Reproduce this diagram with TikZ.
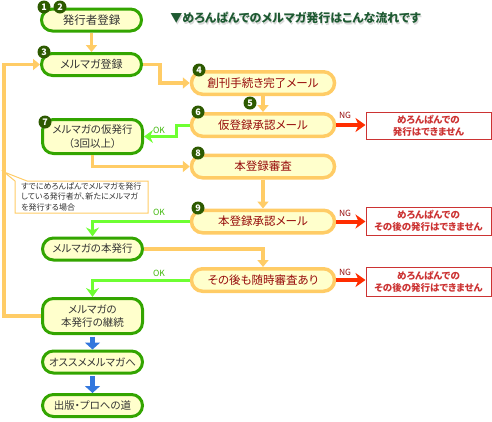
\documentclass[tikz,border=0pt]{standalone}
\usepackage{fontspec}
\setmainfont[RawFeature=+palt]{Noto Sans CJK JP}
\usepackage{tikz}
\usetikzlibrary{arrows.meta}

\definecolor{boxgreen}{RGB}{51,165,0}
\definecolor{cream}{RGB}{255,255,204}
\definecolor{lineorange}{RGB}{255,204,102}
\definecolor{okgreen}{RGB}{110,255,50}
\definecolor{ngred}{RGB}{255,45,0}
\definecolor{boxred}{RGB}{204,51,51}
\definecolor{darkred}{RGB}{150,10,10}
\definecolor{badgegreen}{RGB}{45,90,0}
\definecolor{titlegreen}{RGB}{30,90,50}
\definecolor{arrowblue}{RGB}{51,119,221}
\definecolor{textgray}{RGB}{51,51,51}

\begin{document}
\begin{tikzpicture}[x=1pt, y=-1pt,
	gbox/.style={draw=boxgreen, line width=3pt, fill=cream, rounded corners=11pt,
		minimum width=100pt, minimum height=22pt, inner sep=0pt, align=center,
		text=textgray, font=\fontsize{10.5}{13.5}\selectfont},
	obox/.style={draw=lineorange, line width=3.5pt, fill=cream, rounded corners=11pt,
		minimum width=143pt, minimum height=22.5pt, inner sep=0pt, align=center,
		text=darkred, font=\fontsize{11.5}{14}\selectfont},
	ngbox/.style={draw=boxred, line width=1pt, fill=white, minimum width=125pt,
		inner sep=0pt, align=center, text=boxred, font=\fontsize{9.5}{12}\selectfont\bfseries},
	badge/.style={circle, fill=badgegreen, text=white, minimum size=13pt, inner sep=0pt,
		font=\fontsize{9}{9}\selectfont\bfseries},
	oarrow/.style={draw=lineorange, line width=3.5pt, -{Triangle[width=11pt,length=7pt]}},
	garrow/.style={draw=okgreen, line width=3pt, -{Stealth[width=13pt,length=9pt,inset=3pt]}},
	rarrow/.style={draw=ngred, line width=4pt, -{Stealth[width=14pt,length=10pt,inset=3pt]}},
	barrow/.style={draw=arrowblue, line width=5pt, -{Triangle[width=15pt,length=7pt]}},
	oklabel/.style={text=boxgreen!80!okgreen, font=\fontsize{8.5}{9}\selectfont},
	nglabel/.style={text=darkred, font=\fontsize{8.5}{9}\selectfont}]

	\useasboundingbox (0,0) rectangle (492,421);

	% Title
	\node[text=black!15, font=\fontsize{12}{14}\selectfont\bfseries] at (296.5,19.5) {▼めろんぱんでのメルマガ発行はこんな流れです};
	\node (title) [text=titlegreen, font=\fontsize{12}{14}\selectfont\bfseries] at (295.5,18) {▼めろんぱんでのメルマガ発行はこんな流れです};

	% Draw note for the loop
	\draw[lineorange, line width=1pt, fill=white] (15,213) -- (15,181) -- (4,172) -- (27,181) -- (148,181) -- (148,213) -- cycle;
	\node (note) [anchor=north west, align=left, text=textgray, inner sep=0pt,
		font=\fontsize{8}{10.3}\selectfont] at (21,182.5)
		{すでにめろんぱんでメルマガを発行\\している発行者が、新たにメルマガ\\を発行する場合};

	% Green boxes on the left
	\node[gbox, font=\fontsize{11.5}{14}\selectfont] (hakkosha) at (91.5,20) {発行者登録};
	\node[gbox, font=\fontsize{11}{14}\selectfont] (merumaga) at (91.5,64.5) {メルマガ登録};
	\node[gbox, minimum height=34pt] (karihakko) at (92.5,136.5) {メルマガの仮発行\\（3回以上）};
	\node[gbox] (honhakko) at (92.5,249) {メルマガの本発行};
	\node[gbox, minimum height=35pt] (keizoku) at (92.5,316) {メルマガの\\本発行の継続};
	\node[gbox] (osusume) at (92.5,362) {オススメメルマガへ};
	\node[gbox] (shuppan) at (92.5,405.5) {出版・プロへの道};

	% Orange boxes in the middle
	\node[obox] (soukan) at (263,83) {創刊手続き完了メール};
	\node[obox] (kari) at (263,125) {仮登録承認メール};
	\node[obox] (honshinsa) at (263,166.5) {本登録審査};
	\node[obox] (hon) at (263,221.5) {本登録承認メール};
	\node[obox] (zuiji) at (263,280) {その後も随時審査あり};

	% Red boxes on the right
	\node[ngbox, minimum height=27pt] (ng1) at (428.5,126) {めろんぱんでの\\発行はできません};
	\node[ngbox, minimum height=28pt] (ng2) at (428.5,221) {めろんぱんでの\\その後の発行はできません};
	\node[ngbox, minimum height=29pt] (ng3) at (428.5,282) {めろんぱんでの\\その後の発行はできません};

	% Draw orange flow
	\draw[oarrow] (hakkosha.south) -- (merumaga.north);
	\draw[oarrow] (merumaga.east) -- ++(17,0) |- (soukan.west);
	\draw[oarrow] (soukan.south) -- (kari.north);
	\draw[oarrow] (karihakko.south) |- (honshinsa.west);
	\draw[oarrow] (honshinsa.south) -- (hon.north);
	\draw[oarrow] (honhakko.east) -| (zuiji.north);
	\draw[oarrow] (keizoku.west) -| ([xshift=-36pt]merumaga.west) -- (merumaga.west);

	% Draw OK arrows
	\draw[garrow] (kari.west) -- ++(-13,0) |- (karihakko.east);
	\node[oklabel] (ok1) at (159,130) {OK};
	\draw[garrow] (hon.west) -| (honhakko.north);
	\node[oklabel] (ok2) at (159,212) {OK};
	\draw[garrow] (zuiji.west) -| (keizoku.north);
	\node[oklabel] (ok3) at (159,273) {OK};

	% Draw NG arrows
	\draw[rarrow] (kari.east) -- (ng1.west |- kari.east);
	\node[nglabel] (ng1l) at (345,115) {NG};
	\draw[rarrow] (hon.east) -- (ng2.west |- hon.east);
	\node[nglabel] (ng2l) at (345,213) {NG};
	\draw[rarrow] (zuiji.east) -- (ng3.west |- zuiji.east);
	\node[nglabel] (ng3l) at (345,272) {NG};

	% Draw blue arrows
	\draw[barrow, shorten <=1.5pt] (keizoku.south) -- (osusume.north);
	\draw[barrow, shorten <=1.5pt] (osusume.south) -- (shuppan.north);

	% Number badges
	\node[badge] (b1) at (44,7) {1};
	\node[badge] (b2) at (60,7) {2};
	\node[badge] (b3) at (44,52) {3};
	\node[badge] (b4) at (199,70) {4};
	\node[badge] (b5) at (250,103) {5};
	\node[badge] (b6) at (198,112) {6};
	\node[badge] (b7) at (45,122) {7};
	\node[badge] (b8) at (198,153) {8};
	\node[badge] (b9) at (198,208) {9};

\end{tikzpicture}
\end{document}
